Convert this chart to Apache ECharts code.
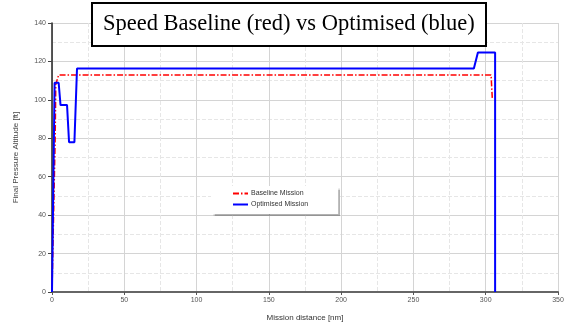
<!DOCTYPE html>
<html>
<head>
<meta charset="utf-8">
<script src="https://cdn.jsdelivr.net/npm/echarts@6/dist/echarts.min.js"></script>
<style>
  html, body { margin: 0; padding: 0; background: #fff; }
  #chart { width: 569px; height: 327px; }
</style>
</head>
<body>
<div id="chart"></div>
<script>
// mission distance [nm] / altitude pairs
const baselineX = [0, 2.2, 2.6, 4.6, 303.7, 304.6];
const baselineY = [0, 80, 108, 113, 113, 100];
const optimisedX = [0, 1.8, 4.6, 5.9, 10.4, 11.8, 15.5, 17.3, 291.8, 294.6, 306.5, 306.5];
const optimisedY = [0, 108.9, 108.9, 97.3, 97.3, 77.9, 77.9, 116.3, 116.3, 124.7, 124.7, 0];
const seriesNames = ["Baseline Mission", "Optimised Mission"];

const zip = (xs, ys) => xs.map((x, i) => [x, ys[i]]);

const chart = echarts.init(document.getElementById("chart"));
const font = "Liberation Sans, Arial, sans-serif";

const option = {
  animation: false,
  title: {
    text: "Speed Baseline (red) vs Optimised (blue)",
    left: 92,
    top: 3,
    padding: [10, 11, 10, 11],
    borderColor: "#000",
    borderWidth: 2,
    backgroundColor: "#fff",
    textStyle: {
      fontFamily: "Liberation Serif, Times New Roman, serif",
      fontSize: 22.5,
      fontWeight: "normal",
      color: "#000"
    }
  },
  legend: {
    data: seriesNames,
    orient: "vertical",
    left: 211,
    top: 186,
    width: 127,
    padding: [4, 30, 6, 21],
    itemGap: 4,
    itemWidth: 15,
    itemHeight: 8,
    itemStyle: { opacity: 0 },
    backgroundColor: "#fff",
    shadowColor: "rgba(0,0,0,0.3)",
    shadowBlur: 1,
    shadowOffsetX: 1.5,
    shadowOffsetY: 1.5,
    textStyle: { fontFamily: font, fontSize: 7, color: "#333", padding: [0, 0, 0, -2] }
  },
  grid: {
    left: 52,
    right: 11,
    top: 23,
    bottom: 33
  },
  xAxis: {
    type: "value",
    min: 0,
    max: 350,
    interval: 50,
    name: "Mission distance [nm]",
    nameLocation: "middle",
    nameGap: 22,
    nameTextStyle: { fontFamily: font, fontSize: 8, color: "#333" },
    axisLine: { show: true, onZero: false, lineStyle: { color: "#666", width: 2 } },
    axisTick: { show: true, length: 3, lineStyle: { color: "#555" } },
    axisLabel: { fontFamily: font, fontSize: 7, color: "#555", margin: 5 },
    splitLine: { show: true, lineStyle: { color: "#d4d4d4", width: 1 } },
    minorTick: { show: false, splitNumber: 2 },
    minorSplitLine: { show: true, lineStyle: { color: "#e6e6e6", type: "dashed" } }
  },
  yAxis: {
    type: "value",
    min: 0,
    max: 140,
    interval: 20,
    name: "Final Pressure Altitude [ft]",
    nameLocation: "middle",
    nameGap: 32,
    nameTextStyle: { fontFamily: font, fontSize: 8, color: "#444" },
    axisLine: { show: true, onZero: false, lineStyle: { color: "#222", width: 1.5 } },
    axisTick: { show: true, length: 4, lineStyle: { color: "#444" } },
    axisLabel: { fontFamily: font, fontSize: 7, color: "#555", margin: 6 },
    splitLine: { show: true, lineStyle: { color: "#d4d4d4", width: 1 } },
    minorTick: { show: false, splitNumber: 2 },
    minorSplitLine: { show: true, lineStyle: { color: "#e6e6e6", type: "dashed" } }
  },
  series: [
    {
      name: seriesNames[0],
      type: "line",
      symbol: "none",
      z: 3,
      data: zip(baselineX, baselineY),
      lineStyle: { color: "#ff0000", width: 1.5, type: [6, 2, 1.5, 2] },
      itemStyle: { color: "#ff0000" }
    },
    {
      name: seriesNames[1],
      type: "line",
      symbol: "none",
      z: 4,
      data: zip(optimisedX, optimisedY),
      lineStyle: { color: "#0000ff", width: 2 },
      itemStyle: { color: "#0000ff" }
    }
  ]
};

chart.setOption(option);
</script>
</body>
</html>
